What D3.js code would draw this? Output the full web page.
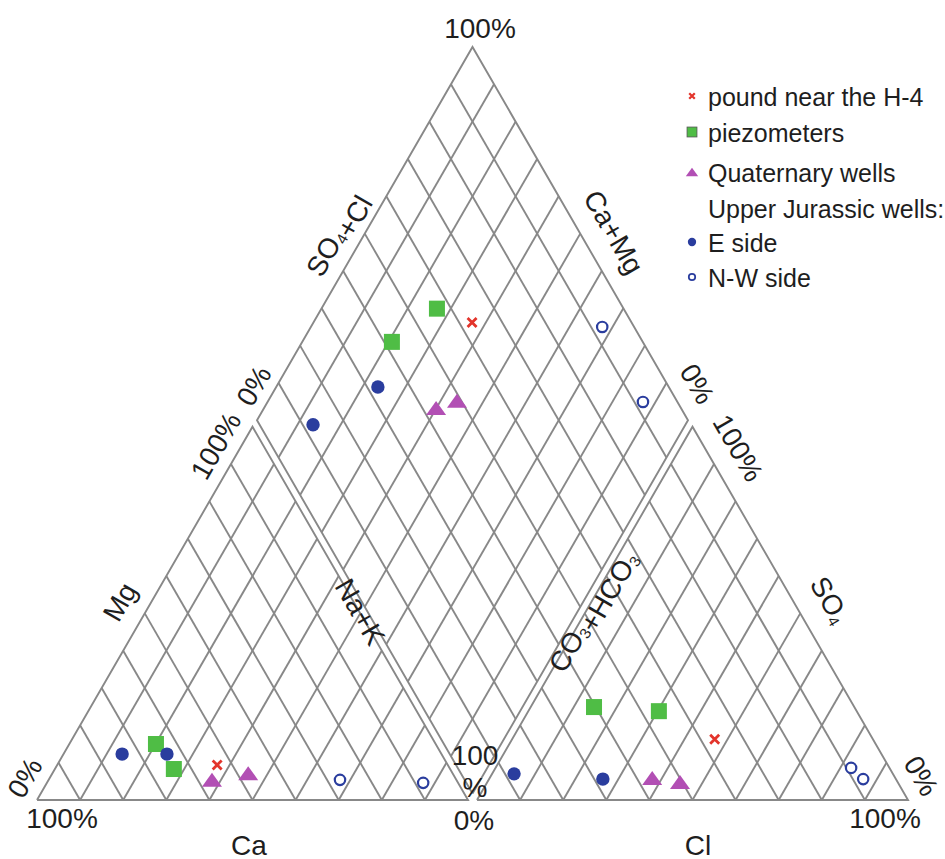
<!DOCTYPE html>
<html>
<head>
<meta charset="utf-8">
<script src="https://cdn.jsdelivr.net/npm/d3@7"></script>
<style>
  html, body { margin: 0; padding: 0; background: #fff; }
  svg { display: block; }
  text { font-family: "Liberation Sans", Arial, sans-serif; fill: #1e1e1e; }
</style>
</head>
<body>
<div id="chart"></div>
<script>
// ---- sample chemistry (% meq), one entry per sample ----
const groups   = ["pound", "piezo", "piezo", "quat", "quat", "jurE", "jurE", "jurNW", "jurNW"];
// cation triangle
const caPct    = [53.5, 64.9, 64.1, 56.7, 47.4, 74.1, 63.7, 27.0,  8.1];
const mgPct    = [ 9.4, 15.0,  8.3,  5.4,  7.2, 12.3, 12.3,  5.4,  4.6];
// anion triangle
const clPct    = [47.0, 14.7, 30.3, 37.7, 44.7,  5.1, 26.4, 86.8, 82.5];
const so4Pct   = [16.3, 24.9, 23.8,  5.9,  4.8,  7.0,  5.6,  5.6,  8.6];
// diamond field
const caMgPct  = [63.2, 79.2, 73.2, 60.1, 56.2, 86.4, 76.4, 32.4, 12.9];
const so4ClPct = [63.0, 41.8, 56.7, 43.2, 49.0, 12.4, 32.5, 92.6, 92.0];

// ---- legend ----
const legendKeys   = ["pound", "piezo", "quat", null, "jurE", "jurNW"];
const legendLabels = ["pound near the H-4", "piezometers", "Quaternary wells",
                      "Upper Jurassic wells:", "E side", "N-W side"];

// ---- grid and tick settings ----
const gridSteps  = d3.range(10, 100, 10);
const tickLabels = { lo: "0%", hi: "100%" };

const W = 945, H = 859;
const svg = d3.select("#chart").append("svg").attr("width", W).attr("height", H);

// geometry of the three fields
const side = 431;
const triH = side * Math.sqrt(3) / 2;
const baseY = 800;
const leftX0 = 37, rightX0 = 477;
const apexY = 47;
const dBottom = { x: 472.5, y: apexY + 2 * triH };

const u = d3.scaleLinear().domain([0, 100]).range([0, side]);   // along base
const v = d3.scaleLinear().domain([0, 100]).range([0, triH]);   // vertical

// cation triangle: Ca (left), Mg (top), Na+K (right)
function cation(ca, mg) {
  const na = 100 - ca - mg;
  return [leftX0 + u(na) + u(mg) / 2, baseY - v(mg)];
}
// anion triangle: CO3+HCO3 (left), SO4 (top), Cl (right)
function anion(cl, so4) {
  return [rightX0 + u(cl) + u(so4) / 2, baseY - v(so4)];
}
// diamond: Ca+Mg toward left vertex, SO4+Cl toward right vertex
function diamond(cm, s) {
  return [dBottom.x + (u(s) - u(cm)) / 2, dBottom.y - v(s) - v(cm)];
}

const gridColor = "#888888";
const line = d3.line();
const gGrid = svg.append("g").attr("fill", "none").attr("stroke", gridColor)
  .attr("stroke-width", 1.9).attr("stroke-linejoin", "miter");

// cation grid: constant Ca and constant Na+K lines
gridSteps.forEach(k => {
  gGrid.append("path").attr("d", line([cation(k, 0), cation(k, 100 - k)]));
  gGrid.append("path").attr("d", line([cation(100 - k, 0), cation(0, 100 - k)]));
});
gGrid.append("path").attr("d", line([cation(100, 0), cation(0, 0), cation(0, 100), cation(100, 0)]));

// anion grid: constant Cl and constant CO3+HCO3 lines
gridSteps.forEach(k => {
  gGrid.append("path").attr("d", line([anion(k, 0), anion(k, 100 - k)]));
  gGrid.append("path").attr("d", line([anion(100 - k, 0), anion(0, 100 - k)]));
});
gGrid.append("path").attr("d", line([anion(0, 0), anion(100, 0), anion(0, 100), anion(0, 0)]));

// diamond grid
gridSteps.forEach(k => {
  gGrid.append("path").attr("d", line([diamond(k, 0), diamond(k, 100)]));
  gGrid.append("path").attr("d", line([diamond(0, k), diamond(100, k)]));
});
gGrid.append("path").attr("d", line([diamond(0, 0), diamond(100, 0), diamond(100, 100), diamond(0, 100), diamond(0, 0)]));

// ---- markers ----
const colors = { pound: "#e3342b", piezo: "#4fbd45", quat: "#b24fb4", jurE: "#2a3d9e", jurNW: "#2a3d9e" };

function drawMarker(g, key, x, y, scale) {
  const s = scale;
  if (key === "pound") {
    const r = 4.5 * s;
    g.append("path")
      .attr("d", `M${x - r},${y - r}L${x + r},${y + r}M${x - r},${y + r}L${x + r},${y - r}`)
      .attr("stroke", colors.pound).attr("stroke-width", 2.8 * Math.max(s, 0.8)).attr("fill", "none");
  } else if (key === "piezo") {
    const a = 16 * s;
    g.append("rect").attr("x", x - a / 2).attr("y", y - a / 2).attr("width", a).attr("height", a)
      .attr("fill", colors.piezo).attr("stroke", s < 1 ? "#555" : "none").attr("stroke-width", 0.8);
  } else if (key === "quat") {
    const w = 20 * s, hh = 14 * s;
    g.append("path")
      .attr("d", `M${x},${y - hh / 2}L${x + w / 2},${y + hh / 2}L${x - w / 2},${y + hh / 2}Z`)
      .attr("fill", colors.quat);
  } else if (key === "jurE") {
    g.append("circle").attr("cx", x).attr("cy", y).attr("r", 6.7 * s).attr("fill", colors.jurE);
  } else if (key === "jurNW") {
    g.append("circle").attr("cx", x).attr("cy", y).attr("r", 5.2 * s)
      .attr("fill", "#fff").attr("stroke", colors.jurNW).attr("stroke-width", 2.2 * Math.max(s, 0.8));
  }
}

const gPts = svg.append("g");
groups.forEach((key, i) => {
  const c = cation(caPct[i], mgPct[i]);
  const a = anion(clPct[i], so4Pct[i]);
  const d = diamond(caMgPct[i], so4ClPct[i]);
  [c, a, d].forEach(p => drawMarker(gPts, key, p[0], p[1], 1));
});

// ---- axis labels ----
const gLab = svg.append("g");
function label(x, y, rot, size) {
  return gLab.append("text")
    .attr("transform", `translate(${x},${y}) rotate(${rot || 0})`)
    .attr("text-anchor", "middle")
    .attr("dominant-baseline", "central")
    .attr("font-size", size || 28);
}
function subText(t, parts) {
  parts.forEach(([s, sub]) => {
    t.append("tspan").text(s);
    if (sub) {
      t.append("tspan").attr("font-size", "55%").attr("dy", 7).text(sub);
      t.append("tspan").attr("dy", -7).text("");
    }
  });
}

label(480, 28).text(tickLabels.hi);
label(62, 818).text(tickLabels.hi);
label(474, 820).text(tickLabels.lo);
label(885, 818).text(tickLabels.hi);
label(249, 845).text("Ca");
label(698, 845).text("Cl");
label(475, 755).text("100");
label(475, 787).text("%");
label(25, 778, -60).text(tickLabels.lo);
label(921, 776, 60).text(tickLabels.lo);
label(216, 446, -60).text(tickLabels.hi);
label(254, 386, -60).text(tickLabels.lo);
label(697, 384, 60).text(tickLabels.lo);
label(738, 448, 60).text(tickLabels.hi);
label(120, 602, -60).text("Mg");
label(360, 612, 60).text("Na+K");
subText(label(336, 234, -60), [["SO", "4"], ["+Cl"]]);
subText(label(614, 232, 60), [["Ca+Mg"]]);
subText(label(590, 610, -60), [["CO", "3"], ["+HCO", "3"]]);
subText(label(830, 600, 60), [["SO", "4"]]);

// ---- legend ----
const gLeg = svg.append("g");
const legendY = [97, 133, 173, 209, 243, 278];
legendLabels.forEach((txt, i) => {
  if (legendKeys[i]) drawMarker(gLeg, legendKeys[i], 692, legendY[i] - 1, 0.62);
  gLeg.append("text").attr("x", 708).attr("y", legendY[i])
    .attr("dominant-baseline", "central").attr("font-size", 25).text(txt);
});
</script>
</body>
</html>
